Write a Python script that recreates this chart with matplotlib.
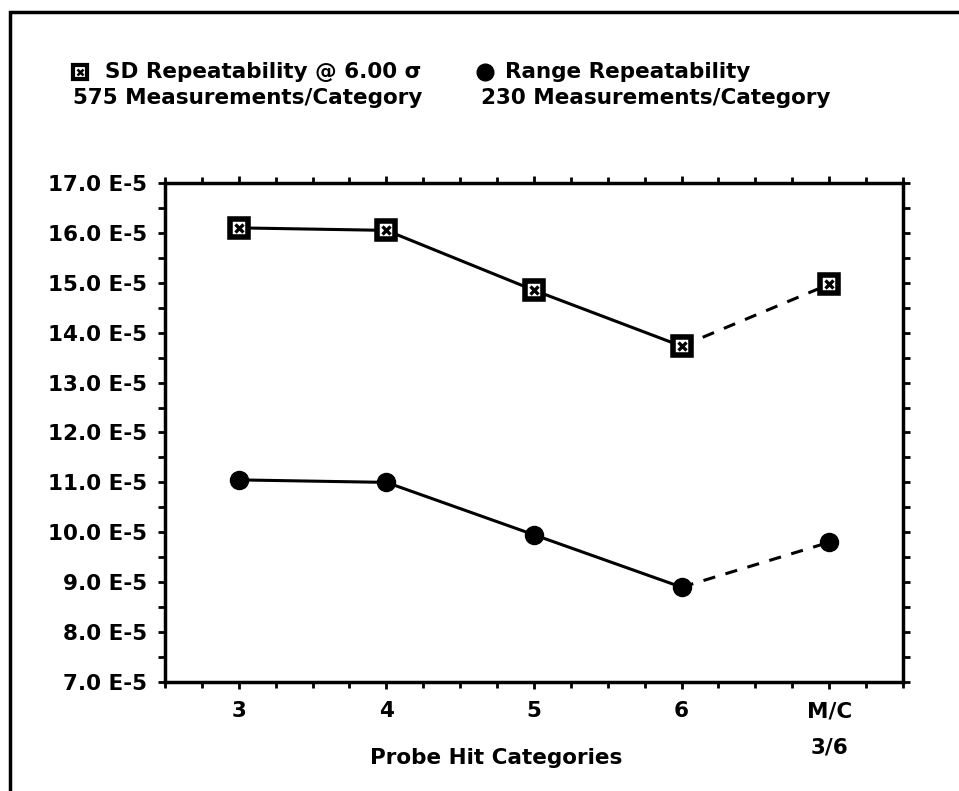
import matplotlib
matplotlib.use("Agg")
import matplotlib.pyplot as plt
from matplotlib.lines import Line2D
from matplotlib.patches import Rectangle
from matplotlib.ticker import MultipleLocator, FuncFormatter

plt.rcParams['font.family'] = ['DejaVu Sans']
plt.rcParams['font.weight'] = 'bold'

# Probe hit categories (last one is the machine-capability column)
categories = ["3", "4", "5", "6", "M/C\n3/6"]
# Repeatability values in units of 1E-5
sd_repeat = [16.1, 16.05, 14.85, 13.73, 14.97]
range_repeat = [11.05, 11.0, 9.95, 8.9, 9.8]

x = list(range(3, 3 + len(categories)))
FS = 15.5

fig = plt.figure(figsize=(9.59, 7.91), dpi=100)
ax = fig.add_axes([0.172, 0.1378, 0.7696, 0.6309])

lw = 2.2
# solid segments over the hit categories, dashed to the M/C column
for vals in (sd_repeat, range_repeat):
    ax.plot(x[:4], vals[:4], color='black', lw=lw, zorder=2)
    ax.plot(x[3:], vals[3:], color='black', lw=lw, ls=(0, (4, 3.5)), zorder=2)

# boxed-cross markers for the SD series
ax.plot(x, sd_repeat, ls='none', marker='s', ms=13, mfc='white', mec='black', mew=4, zorder=3)
ax.plot(x, sd_repeat, ls='none', marker='x', ms=6, mec='black', mew=2.4, zorder=4)
# filled circles for the range series
ax.plot(x, range_repeat, ls='none', marker='o', ms=13, mfc='black', mec='black', zorder=3)

ax.set_xlim(2.5, 7.5)
ax.set_ylim(7.0, 17.0)
ax.set_xticks(x)
ax.set_xticklabels(categories, fontsize=FS, fontweight='bold', linespacing=2.0, va='top')
ax.xaxis.set_minor_locator(MultipleLocator(0.25))
ax.yaxis.set_major_locator(MultipleLocator(1.0))
ax.yaxis.set_minor_locator(MultipleLocator(0.5))
ax.yaxis.set_major_formatter(FuncFormatter(lambda v, p: f"{v:.1f} E-5"))

ax.tick_params(axis='both', which='both', direction='out', width=2, color='black')
ax.tick_params(axis='y', which='both', left=True, right=True, length=5, pad=8, labelsize=FS)
ax.tick_params(axis='x', which='major', bottom=True, top=True, length=5, pad=9)
ax.tick_params(axis='x', which='minor', bottom=True, top=True, length=4)
for lab in ax.get_yticklabels():
    lab.set_fontweight('bold')
for s in ax.spines.values():
    s.set_linewidth(2.5)

ax.set_xlabel("Probe Hit Categories", fontsize=FS, fontweight='bold')
ax.xaxis.set_label_coords(0.449, -0.133)

# legend block above the plot
def fx(px):
    return px / 959.0

def fy(py):
    return 1.0 - py / 791.0

fig.add_artist(Line2D([fx(80)], [fy(72)], marker='s', ms=9.5, mfc='white', mec='black', mew=3))
fig.add_artist(Line2D([fx(80)], [fy(72)], marker='x', ms=4.5, mec='black', mew=1.8))
fig.text(fx(105), fy(72), "SD Repeatability @ 6.00 σ", fontsize=FS, fontweight='bold', va='center', ha='left')
fig.text(fx(73), fy(98), "575 Measurements/Category", fontsize=FS, fontweight='bold', va='center', ha='left')

fig.add_artist(Line2D([fx(485)], [fy(72)], marker='o', ms=12, mfc='black', mec='black'))
fig.text(fx(505), fy(72), "Range Repeatability", fontsize=FS, fontweight='bold', va='center', ha='left')
fig.text(fx(481), fy(98), "230 Measurements/Category", fontsize=FS, fontweight='bold', va='center', ha='left')

# outer frame
fig.add_artist(Rectangle((fx(10), -0.1), 1.2, fy(12) + 0.1, transform=fig.transFigure,
                         fill=False, ec='black', lw=2.5))

fig.savefig("out.png", dpi=100)
